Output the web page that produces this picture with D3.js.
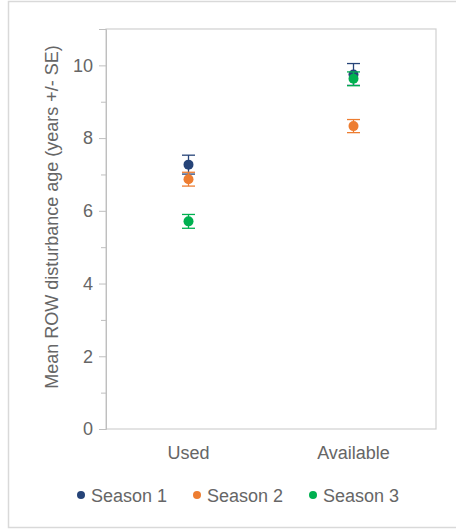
<!DOCTYPE html>
<html>
<head>
<meta charset="utf-8">
<script src="https://cdn.jsdelivr.net/npm/d3@7"></script>
<style>
  body { margin: 0; background: #fff; }
  text { font-family: "Liberation Sans", Arial, sans-serif; fill: #666; }
</style>
</head>
<body>
<svg class="chart"></svg>
<script>
// data
var categories = ["Used", "Available"];
var seasons = ["Season 1", "Season 2", "Season 3"];
var colors = ["#264478", "#ED7D31", "#00B050"];
var means = [
    [7.27, 9.75],   // Season 1
    [6.87, 8.33],   // Season 2
    [5.71, 9.63]    // Season 3
];
var errors = [
    [0.26, 0.30],
    [0.19, 0.18],
    [0.19, 0.19]
];
var yTicks = [0, 2, 4, 6, 8, 10];

var W = 456, H = 529;
var margin = {top: 29, left: 106, right: 20, bottom: 100};
var width = 436 - margin.left, height = 429 - margin.top;

var svg = d3.select(".chart").attr("width", W).attr("height", H);

// outer frame
svg.append("rect")
    .attr("x", 8.5).attr("y", 1.5)
    .attr("width", W).attr("height", H - 3)
    .attr("fill", "none").attr("stroke", "#d9d9d9").attr("stroke-width", 1.5);

var g = svg.append("g")
    .attr("transform", "translate(" + margin.left + "," + margin.top + ")");

var x = d3.scaleBand().domain(categories).range([0, width]);
var y = d3.scaleLinear().domain([0, 11]).range([height, 0]);

// plot area border
g.append("rect")
    .attr("x", 0).attr("y", 0)
    .attr("width", width).attr("height", height)
    .attr("fill", "none").attr("stroke", "#d0d0d0").attr("stroke-width", 1.2);

// minor ticks
var minor = g.append("g").call(d3.axisLeft(y).tickValues(d3.range(1, 11, 2)).tickSize(5).tickFormat(""));
minor.select(".domain").remove();
minor.selectAll("line").attr("stroke", "#bfbfbf");

// major axis
var yAxis = g.append("g")
    .call(d3.axisLeft(y).tickValues(yTicks.concat([11])).tickSize(7).tickPadding(6)
        .tickFormat(function(d) { return d === 11 ? "" : d; }));
yAxis.select(".domain").attr("stroke", "#bfbfbf");
yAxis.selectAll("line").attr("stroke", "#bfbfbf");
yAxis.selectAll("text").style("font-size", "18px").attr("fill", "#666")
    .style("font-family", "'Liberation Sans', Arial, sans-serif");

// category labels
g.selectAll(".cat").data(categories).enter()
    .append("text")
    .attr("x", function(d) { return x(d) + x.bandwidth() / 2; })
    .attr("y", height + 30)
    .attr("text-anchor", "middle")
    .style("font-size", "18px")
    .text(function(d) { return d; });

// y title
svg.append("text")
    .attr("transform", "translate(58,217) rotate(-90)")
    .attr("text-anchor", "middle")
    .style("font-size", "18px")
    .text("Mean ROW disturbance age (years +/- SE)");

// points with error bars
var capW = 6.5;
seasons.forEach(function(s, i) {
    var grp = g.append("g");
    categories.forEach(function(c, j) {
        var cx = x(c) + x.bandwidth() / 2;
        var m = means[i][j], e = errors[i][j];
        grp.append("line")
            .attr("x1", cx).attr("x2", cx)
            .attr("y1", y(m + e)).attr("y2", y(m - e))
            .attr("stroke", colors[i]).attr("stroke-width", 1.3);
        [m + e, m - e].forEach(function(v) {
            grp.append("line")
                .attr("x1", cx - capW).attr("x2", cx + capW)
                .attr("y1", y(v)).attr("y2", y(v))
                .attr("stroke", colors[i]).attr("stroke-width", 1.3);
        });
        grp.append("circle")
            .attr("cx", cx).attr("cy", y(m)).attr("r", 5)
            .attr("fill", colors[i]);
    });
});

// legend
var legend = svg.append("g").attr("transform", "translate(81,495)");
seasons.forEach(function(s, i) {
    var item = legend.append("g").attr("transform", "translate(" + (i * 116) + ",0)");
    item.append("circle").attr("r", 4).attr("fill", colors[i]);
    item.append("text").attr("x", 10).attr("y", 6.5)
        .style("font-size", "18px").text(s);
});
</script>
</body>
</html>
